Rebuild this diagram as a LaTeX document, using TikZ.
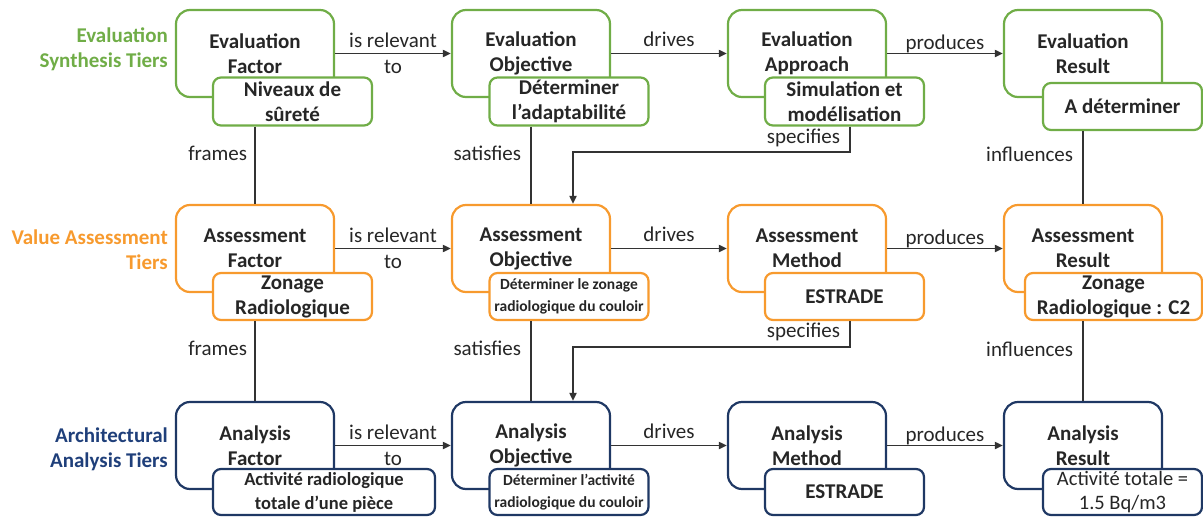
\documentclass[tikz,border=0pt]{standalone}
\usepackage{fontspec}
\setmainfont{Carlito}
\usetikzlibrary{arrows.meta,calc}
\definecolor{cgreen}{HTML}{70AD47}
\definecolor{corange}{HTML}{F79A2E}
\definecolor{cblue}{HTML}{1F3864}
\definecolor{ctierblue}{HTML}{1F3F7A}
\definecolor{ctext}{HTML}{262626}
\definecolor{cline}{HTML}{333333}
\tikzset{
  mainbox/.style={draw, line width=2.2pt, rounded corners=14pt, minimum width=158pt, minimum height=87pt,
    align=center, font=\fontsize{21}{25}\selectfont\bfseries, text=ctext, inner sep=0pt},
  subbox/.style={draw, fill=white, line width=2.2pt, rounded corners=8pt, minimum width=159pt, minimum height=48pt,
    align=center, font=\fontsize{21}{25}\selectfont\bfseries, text=ctext, inner sep=0pt},
  smalltext/.style={font=\fontsize{15.5}{22}\selectfont\bfseries},
  midtext/.style={font=\fontsize{18.5}{24}\selectfont\bfseries},
  rel/.style={line width=1.8pt, draw=cline},
  arr/.style={rel, -{Triangle[length=8pt,width=7pt]}},
  lbl/.style={font=\fontsize{21}{25}\selectfont, text=ctext, inner sep=1pt},
  tier/.style={font=\fontsize{21}{25}\selectfont\bfseries, align=right, anchor=east, inner sep=0pt},
}
\begin{document}
\begin{tikzpicture}[x=1pt,y=-1pt]
\useasboundingbox (0,0) rectangle (1203,517);

% tier labels
\node[tier, text=cgreen] (T1) at (168,49.5) {Evaluation\\Synthesis Tiers};
\node[tier, text=corange] (T2) at (168,249.5) {Value Assessment\\Tiers};
\node[tier, text=ctierblue] (T3) at (168,449) {Architectural\\Analysis Tiers};

% top row
\node[mainbox, draw=cgreen] (EF) at (255,53.5) {Evaluation\\Factor};
\node[mainbox, draw=cgreen] (EO) at (531,53.5) {Evaluation\\Objective};
\node[mainbox, draw=cgreen] (EA) at (807,53.5) {Evaluation\\Approach};
\node[mainbox, draw=cgreen] (ER) at (1083,53.5) {Evaluation\\Result};
\node[subbox, draw=cgreen] (EFs) at (292.5,101.5) {Niveaux de\\sûreté};
\node[subbox, draw=cgreen] (EOs) at (569,101.5) {Déterminer\\l’adaptabilité};
\node[subbox, draw=cgreen] (EAs) at (844.5,101.5) {Simulation et\\modélisation};
\node[subbox, draw=cgreen, minimum height=47pt] (ERs) at (1122.5,106.5) {A déterminer};

% middle row
\node[mainbox, draw=corange] (AF) at (255,248.5) {Assessment\\Factor};
\node[mainbox, draw=corange] (AO) at (531,248.5) {Assessment\\Objective};
\node[mainbox, draw=corange] (AM) at (807,248.5) {Assessment\\Method};
\node[mainbox, draw=corange] (AR) at (1083,248.5) {Assessment\\Result};
\node[subbox, draw=corange, minimum height=47pt] (AFs) at (292.5,296.5) {Zonage\\Radiologique};
\node[subbox, draw=corange, minimum height=47pt, smalltext] (AOs) at (569,296.5) {Déterminer le zonage\\radiologique du couloir};
\node[subbox, draw=corange, minimum height=47pt] (AMs) at (844.5,296.5) {ESTRADE};
\node[subbox, draw=corange, minimum height=47pt, minimum width=177pt] (ARs) at (1113.5,296.5) {Zonage\\Radiologique : C2};

% bottom row
\node[mainbox, draw=cblue] (NF) at (255,445.5) {Analysis\\Factor};
\node[mainbox, draw=cblue] (NO) at (531,445.5) {Analysis\\Objective};
\node[mainbox, draw=cblue] (NM) at (807,445.5) {Analysis\\Method};
\node[mainbox, draw=cblue] (NR) at (1083,445.5) {Analysis\\Result};
\node[subbox, draw=cblue, minimum height=46pt, minimum width=222pt, midtext] (NFs) at (324,492) {Activité radiologique\\totale d’une pièce};
\node[subbox, draw=cblue, minimum height=46pt, smalltext] (NOs) at (569,492) {Déterminer l’activité\\radiologique du couloir};
\node[subbox, draw=cblue, minimum height=46pt] (NMs) at (844.5,492) {ESTRADE};
\node[subbox, draw=cblue, minimum height=46pt, font=\fontsize{20.5}{24.5}\selectfont] (NRs) at (1122.5,492) {Activité totale =\\1.5 Bq/m3};

% horizontal relations
\foreach \a/\b/\c/\d in {EF/EO/EA/ER, AF/AO/AM/AR, NF/NO/NM/NR}{
  \draw[arr] (\a.east) -- (\b.west);
  \node[lbl] at ($(\a.east)!0.5!(\b.west)+(0,-13)$) {is relevant};
  \node[lbl] at ($(\a.east)!0.5!(\b.west)+(0,13)$) {to};
  \draw[arr] (\b.east) -- (\c.west);
  \node[lbl] at ($(\b.east)!0.5!(\c.west)+(0,-14)$) {drives};
  \draw[arr] (\c.east) -- (\d.west);
  \node[lbl] at ($(\c.east)!0.5!(\d.west)+(0,-10)$) {produces};
}

% vertical relations
\draw[rel] (EF.center |- EFs.south) -- node[lbl, pos=0.34, left=6pt] {frames} (AF.north);
\draw[rel] (AF.center |- AFs.south) -- node[lbl, pos=0.34, left=6pt] {frames} (NF.north);
\draw[rel] (EO.center |- EOs.south) -- node[lbl, pos=0.34, left=8pt] {satisfies} (AO.north);
\draw[rel] (AO.center |- AOs.south) -- node[lbl, pos=0.34, left=8pt] {satisfies} (NO.north);
\draw[rel] (ER.center |- ERs.south) -- node[lbl, pos=0.32, left=8pt] {influences} (AR.north);
\draw[rel] (AR.center |- ARs.south) -- node[lbl, pos=0.36, left=8pt] {influences} (NR.north);

\draw[arr] ($(EAs.south)+(5.5,0)$) -- node[lbl, pos=0, anchor=north east, xshift=-8pt] {specifies}
  ++(0,25) -| ($(AO.north)+(42,0)$);
\draw[arr] ($(AMs.south)+(5.5,0)$) -- node[lbl, pos=0, anchor=north east, xshift=-8pt] {specifies}
  ++(0,26) -| ($(NO.north)+(42,0)$);
\end{tikzpicture}
\end{document}
